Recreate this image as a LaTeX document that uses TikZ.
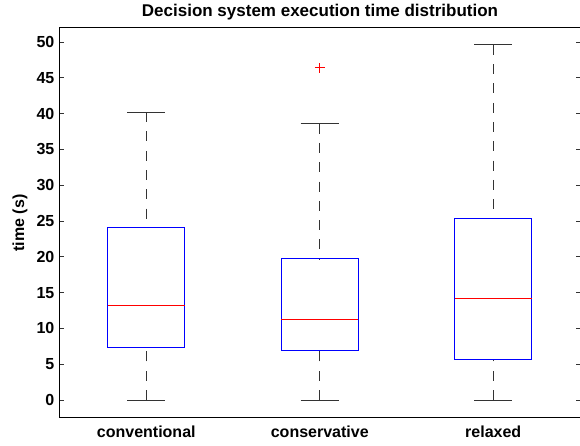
\documentclass[tikz,border=0pt]{standalone}
\usepackage{fontspec}
\setmainfont{Liberation Sans}
\definecolor{boxblue}{RGB}{0,0,255}
\definecolor{medred}{RGB}{255,0,0}
\begin{document}
\begin{tikzpicture}[x=1pt, y=1pt,
    every node/.style={font=\bfseries\fontsize{16}{18}\selectfont, inner sep=0pt},
    boxline/.style={draw=boxblue, line width=1pt},
    medline/.style={draw=medred, line width=1.2pt},
    whisk/.style={draw=black!80, line width=1pt, dash pattern=on 10pt off 9.3pt},
    capline/.style={draw=black!80, line width=1pt},
    axisline/.style={draw=black, line width=1pt}]
    \useasboundingbox (0,0) rectangle (580,445);
    % plot area in data units: group i, time v
    \begin{scope}[x=173.5pt, y=7.16pt, shift={(-27.25pt,45pt)}]
        % axes box
        \draw[axisline] (3.5,52) -- (0.5,52) -- (0.5,-2.5) -- (3.5,-2.5);
        \foreach \v in {0,5,...,50} {
            \draw[draw=black!80, line width=0.8pt] (0.5,\v) -- ++(4pt,0);
            \draw[draw=black!80, line width=0.8pt] (3.5,\v) -- ++(-4pt,0);
            \node (tick\v) [anchor=east] at ([xshift=-5pt]0.5,\v) {\v};
        }
        % boxes: group / q1 / q3 / lower / upper
        \foreach \g/\qa/\qc/\lo/\hi in {1/7.3/24.1/0/40.2, 2/6.9/19.7/0/38.6, 3/5.7/25.4/0/49.6} {
            \draw[whisk] (\g,\hi) -- (\g,\qc);
            \draw[whisk] (\g,\lo) -- (\g,\qa);
            \draw[capline] (\g-0.11,\hi) -- (\g+0.11,\hi);
            \draw[capline] (\g-0.11,\lo) -- (\g+0.11,\lo);
            \draw[boxline] (\g-0.222,\qa) rectangle (\g+0.222,\qc);
        }
        % medians
        \foreach \g/\med in {1/13.2, 2/11.2, 3/14.2}
            \draw[medline] (\g-0.222,\med) -- (\g+0.222,\med);
        % outlier
        \coordinate (outl) at (2,46.4);
        \draw[medline, line width=1pt] ([xshift=-5pt]outl) -- ([xshift=5pt]outl)
            ([yshift=-5pt]outl) -- ([yshift=5pt]outl);
        \node (conv) at (1,-4.5) {conventional};
        \node (cons) at (2,-4.5) {conservative};
        \node (relax) at (3,-4.5) {relaxed};
    \end{scope}
    \node (title) [font=\bfseries\fontsize{17}{19}\selectfont] at (320,433) {Decision system execution time distribution};
    \node (ylab) [rotate=90] at (20,222) {time (s)};
\end{tikzpicture}
\end{document}
